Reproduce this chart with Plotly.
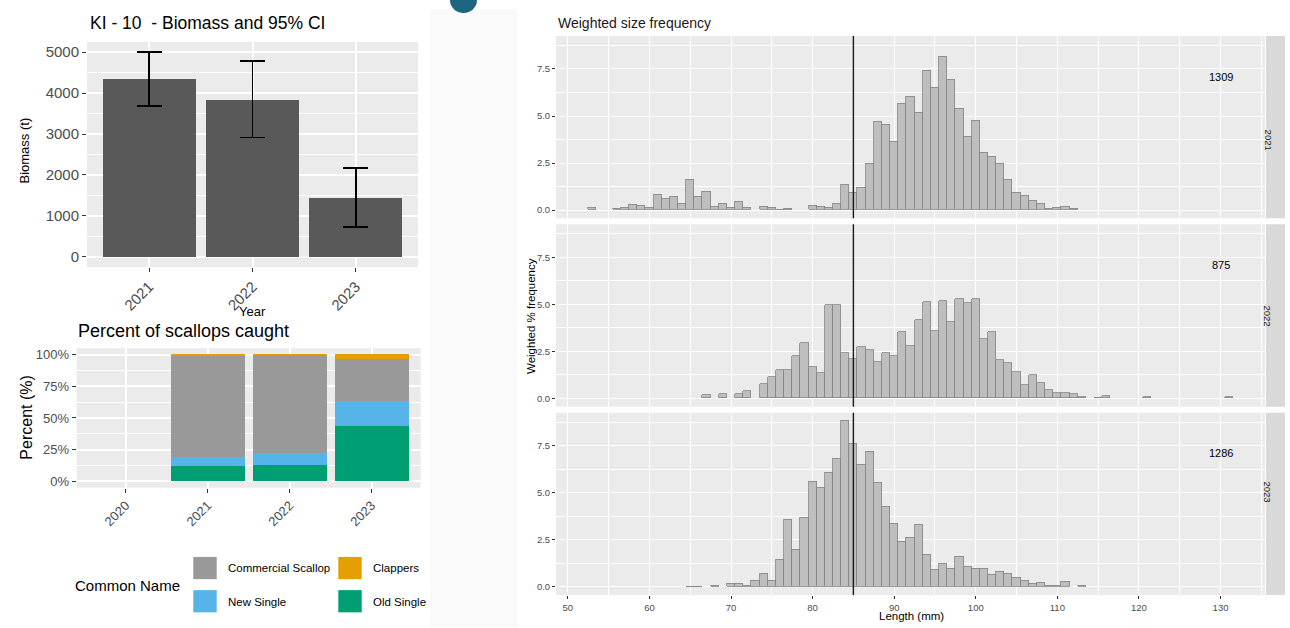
import plotly.graph_objects as go

W, H = 1290, 628
FONT = "Liberation Sans, Arial, sans-serif"

# ---------------- data ----------------
bio_years = ["2021", "2022", "2023"]
bio_values = [4340, 3845, 1445]
bio_lower = [3690, 2915, 735]
bio_upper = [5000, 4790, 2175]

pct_years = ["2020", "2021", "2022", "2023"]
pct_bar_years = ["2021", "2022", "2023"]
pct_names = ["Old Single", "New Single", "Commercial Scallop", "Clappers"]
pct_old_single = [11.8, 13.1, 43.9]
pct_new_single = [6.9, 9.2, 19.4]
pct_commercial = [80.6, 77.2, 32.8]
pct_clappers = [0.7, 0.5, 3.9]
pct_colors = ["#009E73", "#56B4E9", "#999999", "#E69F00"]

len_2021 = [53, 56, 57, 58, 59, 60, 61, 62, 63, 64, 65, 66, 67, 68, 69, 70, 71, 72, 74, 75, 76, 77,
            80, 81, 82, 83, 84, 85, 86, 87, 88, 89, 90, 91, 92, 93, 94, 95, 96, 97, 98, 99, 100,
            101, 102, 103, 104, 105, 106, 107, 108, 109, 110, 111, 112]
freq_2021 = [0.1, 0.07, 0.1, 0.25, 0.21, 0.09, 0.78, 0.6, 0.69, 0.3, 1.58, 0.69, 0.99, 0.18, 0.34,
             0.09, 0.41, 0.09, 0.14, 0.09, 0.02, 0.07,
             0.2, 0.18, 0.09, 0.34, 1.33, 0.9, 1.17, 2.46, 4.7, 4.52, 3.62, 5.67, 6.03, 5.14, 7.39,
             6.5, 8.16, 6.91, 5.39, 3.87, 4.72, 3.05, 2.82, 2.46, 1.6, 0.89, 0.74, 0.48, 0.35,
             0.05, 0.12, 0.16, 0.07]

len_2022 = [67, 69, 71, 72, 74, 75, 76, 77, 78, 79, 80, 81, 82, 83, 84, 85, 86, 87, 88, 89, 90,
            91, 92, 93, 94, 95, 96, 97, 98, 99, 100, 101, 102, 103, 104, 105, 106, 107, 108, 109,
            110, 111, 112, 113, 115, 116, 121, 131]
freq_2022 = [0.18, 0.21, 0.23, 0.36, 0.73, 1.15, 1.49, 1.49, 2.24, 2.91, 1.65, 1.35, 4.96, 4.96,
             2.4, 2.1, 2.72, 2.56, 1.9, 2.4, 2.22, 3.5, 2.75, 4.14, 5.12, 3.59, 5.15, 4.07, 5.26,
             5.06, 5.28, 3.13, 3.53, 2.02, 1.88, 1.37, 0.71, 1.24, 0.83, 0.44, 0.27, 0.25, 0.23,
             0.07, 0.03, 0.1, 0.08, 0.08]

len_2023 = [65, 66, 68, 70, 71, 72, 73, 74, 75, 76, 77, 78, 79, 80, 81, 82, 83, 84, 85, 86, 87,
            88, 89, 90, 91, 92, 93, 94, 95, 96, 97, 98, 99, 100, 101, 102, 103, 104, 105, 106,
            107, 108, 109, 110, 111, 113]
freq_2023 = [0.03, 0.03, 0.04, 0.18, 0.14, 0.07, 0.34, 0.69, 0.3, 1.46, 3.55, 1.95, 3.67, 5.59,
             5.25, 6.05, 6.79, 8.82, 7.63, 6.47, 7.17, 5.54, 4.27, 3.37, 2.4, 2.59, 3.3, 1.73,
             0.9, 1.23, 0.95, 1.59, 1.08, 0.97, 0.97, 0.67, 0.79, 0.71, 0.46, 0.35, 0.14, 0.21,
             0.05, 0.05, 0.26, 0.04]

hist_years = ["2021", "2022", "2023"]
hist_counts = ["1309", "875", "1286"]
legal_size = 85
x_ticks = [50, 60, 70, 80, 90, 100, 110, 120, 130]


def px(x):
    return x / W


def py(y):
    return 1 - y / H


fig = go.Figure()

# ---------------- biomass ----------------
fig.add_trace(go.Bar(
    x=bio_years, y=bio_values, width=0.9, marker=dict(color="#595959", line=dict(width=0)),
    error_y=dict(type="data", symmetric=False,
                 array=[u - v for u, v in zip(bio_upper, bio_values)],
                 arrayminus=[v - l for v, l in zip(bio_values, bio_lower)],
                 color="black", thickness=1.7, width=12.5),
    xaxis="x", yaxis="y", showlegend=False, hoverinfo="skip"))

# ---------------- percent ----------------
for name, vals, col in zip(pct_names, [pct_old_single, pct_new_single, pct_commercial, pct_clappers], pct_colors):
    fig.add_trace(go.Bar(x=pct_bar_years, y=vals, width=0.9, name=name,
                         marker=dict(color=col, line=dict(width=0)),
                         xaxis="x2", yaxis="y2", showlegend=False, hoverinfo="skip"))

# ---------------- histograms ----------------
hist_lens = [len_2021, len_2022, len_2023]
hist_freqs = [freq_2021, freq_2022, freq_2023]
for i, (lx, fy) in enumerate(zip(hist_lens, hist_freqs)):
    fig.add_trace(go.Bar(x=lx, y=fy, width=1.0,
                         marker=dict(color="#BEBEBE", line=dict(color="#858585", width=0.8)),
                         xaxis=f"x{i+3}", yaxis=f"y{i+3}", showlegend=False, hoverinfo="skip"))

grid_left = dict(showgrid=True, gridcolor="white", gridwidth=1.6, zeroline=False, showline=False,
                 ticks="outside", ticklen=4, tickwidth=1.2, tickcolor="#333333")

layout = dict(
    width=W, height=H, margin=dict(l=0, r=0, t=0, b=0),
    paper_bgcolor="white", plot_bgcolor="#EBEBEB", barmode="stack", bargap=0,
    font=dict(family=FONT, color="#1A1A1A"),
    xaxis=dict(domain=[px(87), px(418)], anchor="y", type="category", categoryorder="array",
               categoryarray=bio_years, range=[-0.6, 2.6], tickangle=-45,
               tickfont=dict(size=15, color="#4D4D4D"), **grid_left),
    yaxis=dict(domain=[py(267), py(41)], anchor="x", range=[-250, 5250], tick0=0, dtick=1000,
               tickfont=dict(size=15, color="#4D4D4D"),
               minor=dict(dtick=500, tick0=0, showgrid=True, gridcolor="white", gridwidth=0.8, ticks=""),
               **grid_left),
    xaxis2=dict(domain=[px(76.7), px(420.7)], anchor="y2", type="category", categoryorder="array",
                categoryarray=pct_years, range=[-0.6, 3.6], tickangle=-45,
                tickfont=dict(size=13, color="#4D4D4D"), **grid_left),
    yaxis2=dict(domain=[py(488.3), py(348.3)], anchor="x2", range=[-5, 105], tick0=0, dtick=25,
                ticksuffix="%", tickfont=dict(size=13, color="#4D4D4D"),
                minor=dict(dtick=12.5, tick0=0, showgrid=True, gridcolor="white", gridwidth=0.8, ticks=""),
                **grid_left),
)

hist_dom = [(35, 218), (224, 407), (413, 596)]
for i, (top, bot) in enumerate(hist_dom):
    k = i + 3
    last = (i == 2)
    layout[f"xaxis{k}"] = dict(
        domain=[px(556), px(1265)], anchor=f"y{k}", range=[48.55, 135.45],
        tickvals=x_ticks, showticklabels=last, ticks="outside" if last else "", ticklen=3,
        tickcolor="#333333", tickfont=dict(size=9.5, color="#4D4D4D"),
        showgrid=True, gridcolor="white", gridwidth=1.2, zeroline=False, showline=False,
        minor=dict(dtick=5, tick0=0, showgrid=True, gridcolor="white", gridwidth=0.6, ticks=""))
    layout[f"yaxis{k}"] = dict(
        domain=[py(bot), py(top)], anchor=f"x{k}", range=[-0.441, 9.261], tick0=0, dtick=2.5,
        tickformat=".1f", ticks="outside", ticklen=3, tickcolor="#333333",
        tickfont=dict(size=9.5, color="#4D4D4D"),
        showgrid=True, gridcolor="white", gridwidth=1.2, zeroline=False, showline=False,
        minor=dict(dtick=1.25, tick0=0, showgrid=True, gridcolor="white", gridwidth=0.6, ticks=""))

fig.update_layout(**layout)

shapes = []
annotations = []

# background texture strip & teal circle
shapes.append(dict(type="rect", xref="paper", yref="paper", x0=px(430), x1=px(517), y0=0, y1=py(8),
                   fillcolor="#FAFAFA", line=dict(width=0), layer="below"))
shapes.append(dict(type="circle", xref="paper", yref="paper", x0=px(450), x1=px(477), y0=py(12), y1=py(-14),
                   fillcolor="#1E6580", line=dict(width=0)))

# histogram reference lines, strips, counts
for i, (top, bot) in enumerate(hist_dom):
    k = i + 3
    shapes.append(dict(type="line", xref=f"x{k}", yref=f"y{k} domain", x0=legal_size, x1=legal_size,
                       y0=0, y1=1, line=dict(color="#1A1A1A", width=1.4)))
    shapes.append(dict(type="rect", xref="paper", yref="paper", x0=px(1266), x1=px(1285),
                       y0=py(bot), y1=py(top), fillcolor="#D9D9D9", line=dict(width=0)))
    annotations.append(dict(text=hist_years[i], xref="paper", yref="paper", x=px(1275.5),
                            y=py((top + bot) / 2), textangle=90, showarrow=False,
                            font=dict(size=9.5, color="#1A1A1A")))
    annotations.append(dict(text=hist_counts[i], xref=f"x{k}", yref=f"y{k}", x=130, y=7.1,
                            showarrow=False, font=dict(size=11, color="black")))

# titles / axis titles
def ann(text, x, y, size, xanchor="center", angle=0, color="black"):
    annotations.append(dict(text=text, xref="paper", yref="paper", x=px(x), y=py(y), xanchor=xanchor,
                            yanchor="middle", textangle=angle, showarrow=False,
                            font=dict(size=size, color=color)))

ann("KI - 10  - Biomass and 95% CI", 88, 22, 17.5, xanchor="left")
ann("Biomass (t)", 25, 150, 13, angle=-90)
ann("Year", 252, 311, 13)
ann("Percent of scallops caught", 76, 331, 18, xanchor="left")
ann("Percent (%)", 27, 418, 16, angle=-90)
ann("Weighted size frequency", 556, 22, 14, xanchor="left", color="#1A1A1A")
ann("Weighted % frequency", 531, 316, 11.5, angle=-90)
ann("Length (mm)", 911, 617, 11.5)

# manual legend
ann("Common Name", 73, 586, 15, xanchor="left")
legend_order = ["Commercial Scallop", "Clappers", "New Single", "Old Single"]
legend_pos = [(193.3, 557.7), (338.3, 557.7), (193.3, 591), (338.3, 591)]
for name, (lx, ly) in zip(legend_order, legend_pos):
    col = pct_colors[pct_names.index(name)]
    shapes.append(dict(type="rect", xref="paper", yref="paper", x0=px(lx), x1=px(lx + 23.4),
                       y0=py(ly + 22.3), y1=py(ly), fillcolor=col, line=dict(width=0)))
    ann(name, lx + 33, ly + 11.5, 11.5, xanchor="left")

fig.update_layout(shapes=shapes, annotations=annotations)
fig.write_html("out.html", config={"displayModeBar": False},
               post_script="document.body.style.margin='0px';")
